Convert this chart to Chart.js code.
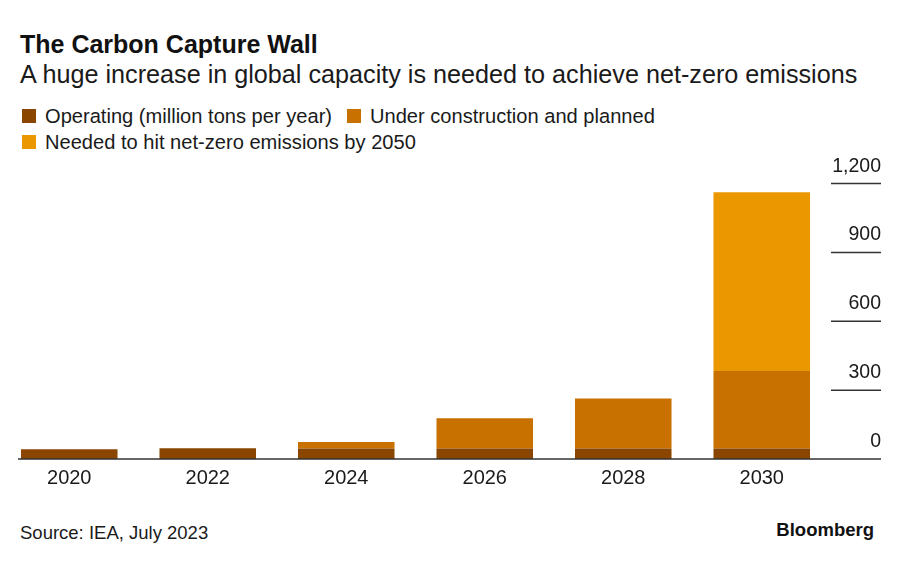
<!DOCTYPE html>
<html>
<head>
<meta charset="utf-8">
<script src="https://cdn.jsdelivr.net/npm/chart.js@4/dist/chart.umd.min.js"></script>
<style>
  html, body { margin: 0; padding: 0; background: #fff; }
  body { width: 908px; height: 565px; position: relative; overflow: hidden;
         font-family: "Liberation Sans", Arial, sans-serif; color: #1a1a1a; }
  .abs { position: absolute; white-space: nowrap; }
  #title { left: 20px; top: 28.6px; font-size: 25px; line-height: 30px; font-weight: bold; color: #111; }
  #subtitle { left: 20px; top: 58.5px; font-size: 25.2px; line-height: 30px; color: #1a1a1a; }
  .lg { font-size: 20.1px; line-height: 24px; color: #1a1a1a; }
  .sw { position: absolute; width: 14px; height: 14px; }
  #source { left: 20px; top: 521.6px; font-size: 18.5px; line-height: 22px; color: #1a1a1a; }
  #logo { right: 34px; top: 518.6px; font-size: 18.5px; line-height: 22px; font-weight: bold; color: #111; }
  #chart { position: absolute; left: 0; top: 150px; }
</style>
</head>
<body>
<div id="title" class="abs">The Carbon Capture Wall</div>
<div id="subtitle" class="abs">A huge increase in global capacity is needed to achieve net-zero emissions</div>

<div class="sw" id="sw0" style="left:22px; top:109px;"></div>
<div class="abs lg" id="lg0" style="left:45px; top:103.5px;"></div>
<div class="sw" id="sw1" style="left:347px; top:109px;"></div>
<div class="abs lg" id="lg1" style="left:370px; top:103.5px;"></div>
<div class="sw" id="sw2" style="left:22px; top:135px;"></div>
<div class="abs lg" id="lg2" style="left:45px; top:129.5px;"></div>

<canvas id="chart" width="908" height="340"></canvas>

<div id="source" class="abs">Source: IEA, July 2023</div>
<div id="logo" class="abs">Bloomberg</div>

<script>
// ---- data ----
const categories = ['2020', '2022', '2024', '2026', '2028', '2030'];
const operating = [43, 47, 46, 46, 46, 46];
const underConstruction = [null, null, 28, 132, 218, 337];
const needed = [null, null, null, null, null, 779];
const yTicks = [0, 300, 600, 900, 1200];
const seriesNames = ['Operating (million tons per year)', 'Under construction and planned', 'Needed to hit net-zero emissions by 2050'];
const seriesColors = ['#8a4600', '#c87000', '#eb9800'];

// legend (HTML)
seriesNames.forEach((n, i) => {
  document.getElementById('lg' + i).textContent = n;
  document.getElementById('sw' + i).style.background = seriesColors[i];
});

const FONT = '"Liberation Sans", Arial, sans-serif';

const rightAxisPlugin = {
  id: 'rightAxis',
  afterDatasetsDraw(chart) {
    const ctx = chart.ctx;
    const y = chart.scales.y;
    const area = chart.chartArea;
    const axisRight = area.right + 50;
    ctx.save();
    ctx.strokeStyle = '#333';
    ctx.lineWidth = 1.5;
    // baseline
    const y0 = y.getPixelForValue(0);
    ctx.beginPath();
    ctx.moveTo(18, y0);
    ctx.lineTo(axisRight, y0);
    ctx.stroke();
    // short gridline segments + labels
    ctx.fillStyle = '#1a1a1a';
    ctx.font = '19.5px ' + FONT;
    ctx.textAlign = 'right';
    ctx.textBaseline = 'alphabetic';
    yTicks.forEach(v => {
      const py = y.getPixelForValue(v);
      if (v !== 0) {
        ctx.beginPath();
        ctx.moveTo(area.right, py);
        ctx.lineTo(axisRight, py);
        ctx.stroke();
      }
      ctx.fillText(v.toLocaleString('en-US'), axisRight, py - 12);
    });
    ctx.restore();
  }
};

new Chart(document.getElementById('chart'), {
  type: 'bar',
  data: {
    labels: categories,
    datasets: [
      { label: seriesNames[0], data: operating, backgroundColor: seriesColors[0] },
      { label: seriesNames[1], data: underConstruction, backgroundColor: seriesColors[1] },
      { label: seriesNames[2], data: needed, backgroundColor: seriesColors[2] }
    ]
  },
  options: {
    responsive: false,
    animation: false,
    devicePixelRatio: 1,
    layout: { padding: { top: 33.5, bottom: 1, left: 0, right: 77 } },
    datasets: { bar: { categoryPercentage: 1, barPercentage: 0.697, borderWidth: 0 } },
    plugins: { legend: { display: false }, tooltip: { enabled: false }, title: { display: false } },
    scales: {
      x: {
        stacked: true,
        grid: { display: false },
        border: { display: false },
        ticks: { color: '#1a1a1a', font: { family: FONT, size: 20 }, padding: -1, maxRotation: 0 }
      },
      y: {
        stacked: true,
        display: false,
        min: 0,
        max: 1200,
        ticks: { stepSize: 300 }
      }
    }
  },
  plugins: [rightAxisPlugin]
});
</script>
</body>
</html>
